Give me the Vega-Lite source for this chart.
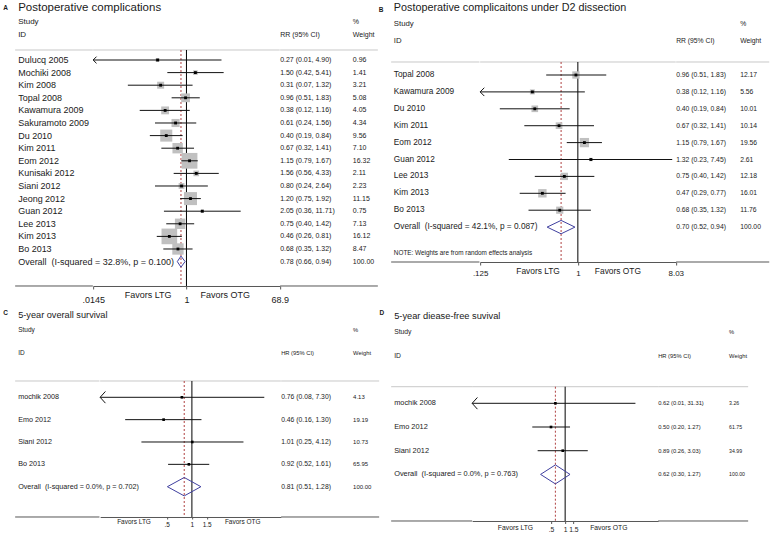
{
"$schema": "https://vega.github.io/schema/vega-lite/v6.json",
"padding": {"left": 3.15, "top": 0, "right": 0, "bottom": 0},
"background": "white",
"config": {"view": {"stroke": null}, "font": "Liberation Sans", "text": {"font": "Liberation Sans", "color": "#1a1a1a"}, "axis": {"labelFont": "Liberation Sans", "grid": false}},
"resolve": {"scale": {"size": "independent"}},
"datasets": {
"panels": [
{"panel":"A","letter":"A","title":"Postoperative complications"},
{"panel":"B","letter":"B","title":"Postoperative complicaitons under D2 dissection"},
{"panel":"C","letter":"C","title":"5-year overall survival"},
{"panel":"D","letter":"D","title":"5-year diease-free suvival"}],
"notes": [{"panel":"B","text":"NOTE: Weights are from random effects analysis"}],
"favors": [{"side":"left","text":"Favors LTG"},{"side":"right","text":"Favors OTG"}],
"headers": [
{"panel":"A","row":-2,"col":"study","text":"Study"},{"panel":"A","row":-1,"col":"study","text":"ID"},{"panel":"A","row":-1,"col":"ci","text":"RR (95% CI)"},{"panel":"A","row":-2,"col":"weight","text":"%"},{"panel":"A","row":-1,"col":"weight","text":"Weight"},
{"panel":"B","row":-2,"col":"study","text":"Study"},{"panel":"B","row":-1,"col":"study","text":"ID"},{"panel":"B","row":-1,"col":"ci","text":"RR (95% CI)"},{"panel":"B","row":-2,"col":"weight","text":"%"},{"panel":"B","row":-1,"col":"weight","text":"Weight"},
{"panel":"C","row":-2,"col":"study","text":"Study"},{"panel":"C","row":-1,"col":"study","text":"ID"},{"panel":"C","row":-1,"col":"ci","text":"HR (95% CI)"},{"panel":"C","row":-2,"col":"weight","text":"%"},{"panel":"C","row":-1,"col":"weight","text":"Weight"},
{"panel":"D","row":-2,"col":"study","text":"Study"},{"panel":"D","row":-1,"col":"study","text":"ID"},{"panel":"D","row":-1,"col":"ci","text":"HR (95% CI)"},{"panel":"D","row":-2,"col":"weight","text":"%"},{"panel":"D","row":-1,"col":"weight","text":"Weight"}],
"studies": [
{"panel":"A","row":1,"study":"Dulucq 2005","rr":0.27,"lo":0.01,"hi":4.90,"ci":"0.27 (0.01, 4.90)","w":0.96,"overall":false},
{"panel":"A","row":2,"study":"Mochiki 2008","rr":1.50,"lo":0.42,"hi":5.41,"ci":"1.50 (0.42, 5.41)","w":1.41,"overall":false},
{"panel":"A","row":3,"study":"Kim 2008","rr":0.31,"lo":0.07,"hi":1.32,"ci":"0.31 (0.07, 1.32)","w":3.21,"overall":false},
{"panel":"A","row":4,"study":"Topal 2008","rr":0.96,"lo":0.51,"hi":1.83,"ci":"0.96 (0.51, 1.83)","w":5.08,"overall":false},
{"panel":"A","row":5,"study":"Kawamura 2009","rr":0.38,"lo":0.12,"hi":1.16,"ci":"0.38 (0.12, 1.16)","w":4.05,"overall":false},
{"panel":"A","row":6,"study":"Sakuramoto 2009","rr":0.61,"lo":0.24,"hi":1.56,"ci":"0.61 (0.24, 1.56)","w":4.34,"overall":false},
{"panel":"A","row":7,"study":"Du 2010","rr":0.40,"lo":0.19,"hi":0.84,"ci":"0.40 (0.19, 0.84)","w":9.56,"overall":false},
{"panel":"A","row":8,"study":"Kim 2011","rr":0.67,"lo":0.32,"hi":1.41,"ci":"0.67 (0.32, 1.41)","w":7.10,"overall":false},
{"panel":"A","row":9,"study":"Eom 2012","rr":1.15,"lo":0.79,"hi":1.67,"ci":"1.15 (0.79, 1.67)","w":16.32,"overall":false},
{"panel":"A","row":10,"study":"Kunisaki 2012","rr":1.56,"lo":0.56,"hi":4.33,"ci":"1.56 (0.56, 4.33)","w":2.11,"overall":false},
{"panel":"A","row":11,"study":"Siani 2012","rr":0.80,"lo":0.24,"hi":2.64,"ci":"0.80 (0.24, 2.64)","w":2.23,"overall":false},
{"panel":"A","row":12,"study":"Jeong 2012","rr":1.20,"lo":0.75,"hi":1.92,"ci":"1.20 (0.75, 1.92)","w":11.15,"overall":false},
{"panel":"A","row":13,"study":"Guan 2012","rr":2.05,"lo":0.36,"hi":11.71,"ci":"2.05 (0.36, 11.71)","w":0.75,"overall":false},
{"panel":"A","row":14,"study":"Lee 2013","rr":0.75,"lo":0.40,"hi":1.42,"ci":"0.75 (0.40, 1.42)","w":7.13,"overall":false},
{"panel":"A","row":15,"study":"Kim 2013","rr":0.46,"lo":0.26,"hi":0.81,"ci":"0.46 (0.26, 0.81)","w":16.12,"overall":false},
{"panel":"A","row":16,"study":"Bo 2013","rr":0.68,"lo":0.35,"hi":1.32,"ci":"0.68 (0.35, 1.32)","w":8.47,"overall":false},
{"panel":"A","row":17,"study":"Overall\u00a0 (I-squared = 32.8%, p = 0.100)","rr":0.78,"lo":0.66,"hi":0.94,"ci":"0.78 (0.66, 0.94)","w":100,"overall":true},
{"panel":"B","row":1,"study":"Topal 2008","rr":0.96,"lo":0.51,"hi":1.83,"ci":"0.96 (0.51, 1.83)","w":12.17,"overall":false},
{"panel":"B","row":2,"study":"Kawamura 2009","rr":0.38,"lo":0.12,"hi":1.16,"ci":"0.38 (0.12, 1.16)","w":5.56,"overall":false},
{"panel":"B","row":3,"study":"Du 2010","rr":0.40,"lo":0.19,"hi":0.84,"ci":"0.40 (0.19, 0.84)","w":10.01,"overall":false},
{"panel":"B","row":4,"study":"Kim 2011","rr":0.67,"lo":0.32,"hi":1.41,"ci":"0.67 (0.32, 1.41)","w":10.14,"overall":false},
{"panel":"B","row":5,"study":"Eom 2012","rr":1.15,"lo":0.79,"hi":1.67,"ci":"1.15 (0.79, 1.67)","w":19.56,"overall":false},
{"panel":"B","row":6,"study":"Guan 2012","rr":1.32,"lo":0.23,"hi":7.45,"ci":"1.32 (0.23, 7.45)","w":2.61,"overall":false},
{"panel":"B","row":7,"study":"Lee 2013","rr":0.75,"lo":0.40,"hi":1.42,"ci":"0.75 (0.40, 1.42)","w":12.18,"overall":false},
{"panel":"B","row":8,"study":"Kim 2013","rr":0.47,"lo":0.29,"hi":0.77,"ci":"0.47 (0.29, 0.77)","w":16.01,"overall":false},
{"panel":"B","row":9,"study":"Bo 2013","rr":0.68,"lo":0.35,"hi":1.32,"ci":"0.68 (0.35, 1.32)","w":11.76,"overall":false},
{"panel":"B","row":10,"study":"Overall\u00a0 (I-squared = 42.1%, p = 0.087)","rr":0.70,"lo":0.52,"hi":0.94,"ci":"0.70 (0.52, 0.94)","w":100,"overall":true},
{"panel":"C","row":1,"study":"mochik 2008","rr":0.76,"lo":0.08,"hi":7.30,"ci":"0.76 (0.08, 7.30)","w":4.13,"overall":false},
{"panel":"C","row":2,"study":"Emo 2012","rr":0.46,"lo":0.16,"hi":1.30,"ci":"0.46 (0.16, 1.30)","w":19.19,"overall":false},
{"panel":"C","row":3,"study":"Siani 2012","rr":1.01,"lo":0.25,"hi":4.12,"ci":"1.01 (0.25, 4.12)","w":10.73,"overall":false},
{"panel":"C","row":4,"study":"Bo 2013","rr":0.92,"lo":0.52,"hi":1.61,"ci":"0.92 (0.52, 1.61)","w":65.95,"overall":false},
{"panel":"C","row":5,"study":"Overall\u00a0 (I-squared = 0.0%, p = 0.702)","rr":0.81,"lo":0.51,"hi":1.28,"ci":"0.81 (0.51, 1.28)","w":100,"overall":true},
{"panel":"D","row":1,"study":"mochik 2008","rr":0.62,"lo":0.01,"hi":31.31,"ci":"0.62 (0.01, 31.31)","w":3.26,"overall":false},
{"panel":"D","row":2,"study":"Emo 2012","rr":0.50,"lo":0.20,"hi":1.27,"ci":"0.50 (0.20, 1.27)","w":61.75,"overall":false},
{"panel":"D","row":3,"study":"Siani 2012","rr":0.89,"lo":0.26,"hi":3.03,"ci":"0.89 (0.26, 3.03)","w":34.99,"overall":false},
{"panel":"D","row":4,"study":"Overall\u00a0 (I-squared = 0.0%, p = 0.763)","rr":0.62,"lo":0.30,"hi":1.27,"ci":"0.62 (0.30, 1.27)","w":100,"overall":true}]
},
"spacing": 0,
"vconcat": [
{"hconcat": [
{"width": 77.7, "height": 286, "layer": [
 {"data":{"name":"panels"},"transform":[{"filter":"datum.panel === 'A'"}],"mark":{"type":"rule","color":"#c8c8c8","strokeWidth":1},"encoding":{"y":{"datum":0.206,"type":"quantitative","scale":{"domain":[-3.762,18.937],"reverse":true,"nice":false,"zero":false},"axis":null}}},
 {"data":{"name":"panels"},"transform":[{"filter":"datum.panel === 'A'"}],"mark":{"type":"rule","color":"#555","strokeWidth":1},"encoding":{"y":{"datum":18.937,"type":"quantitative","scale":{"domain":[-3.762,18.937],"reverse":true,"nice":false,"zero":false},"axis":null}}},
 {"data":{"name":"panels"},"transform":[{"filter":"datum.panel === 'A'"}],"mark":{"type":"text","align":"left","baseline":"middle","fontSize":11.5},"encoding":{"x":{"datum":"study","type":"nominal","scale":{"type":"point","domain":["study"],"align":0.0386,"padding":0},"axis":null},"y":{"datum":-3.127,"type":"quantitative","scale":{"domain":[-3.762,18.937],"reverse":true,"nice":false,"zero":false},"axis":null},"text":{"field":"title"}}},
 {"data":{"name":"panels"},"transform":[{"filter":"datum.panel === 'A'"}],"mark":{"type":"text","align":"center","baseline":"middle","fontSize":6.5,"fontWeight":"bold","dx":-12.5},"encoding":{"x":{"datum":"study","type":"nominal","scale":{"type":"point","domain":["study"],"align":0.0386,"padding":0},"axis":null},"y":{"datum":-3.127,"type":"quantitative","scale":{"domain":[-3.762,18.937],"reverse":true,"nice":false,"zero":false},"axis":null},"text":{"field":"letter"}}},
 {"data":{"name":"headers"},"transform":[{"filter":"datum.panel === 'A' && datum.col === 'study'"}],"mark":{"type":"text","align":"left","baseline":"middle","fontSize":8},"encoding":{"x":{"field":"col","type":"nominal","scale":{"type":"point","domain":["study"],"align":0.0386,"padding":0},"axis":null},"y":{"field":"row","type":"quantitative","scale":{"domain":[-3.762,18.937],"reverse":true,"nice":false,"zero":false},"axis":null},"text":{"field":"text"}}},
 {"data":{"name":"studies"},"transform":[{"filter":"datum.panel === 'A'"}],"mark":{"type":"text","align":"left","baseline":"middle","fontSize":9},"encoding":{"x":{"datum":"study","type":"nominal","scale":{"type":"point","domain":["study"],"align":0.0386,"padding":0},"axis":null},"y":{"field":"row","type":"quantitative","scale":{"domain":[-3.762,18.937],"reverse":true,"nice":false,"zero":false},"axis":null},"text":{"field":"study"}}}
]},
{"width": 186.6, "height": 286, "layer": [
 {"data":{"name":"panels"},"transform":[{"filter":"datum.panel === 'A'"}],"mark":{"type":"rule","color":"#c8c8c8","strokeWidth":1},"encoding":{"y":{"datum":0.206,"type":"quantitative","scale":{"domain":[-3.762,18.937],"reverse":true,"nice":false,"zero":false},"axis":null}}},
 {"data":{"name":"panels"},"transform":[{"filter":"datum.panel === 'A'"}],"mark":{"type":"rule","color":"#000","strokeWidth":1},"encoding":{"x":{"datum":1,"type":"quantitative","scale":{"type":"log","domain":[0.0145,68.9],"nice":false,"clamp":true},"axis":{"values":[0.0145,1,68.9],"labelExpr":"datum.value < 1 ? substring(format(datum.value, '~g'), 1) : format(datum.value, '~g')","tickSize":3,"labelPadding":7,"labelFontSize":9,"labelColor":"#1a1a1a","tickColor":"#555","domainColor":"#555","title":null,"grid":false,"labelFlush":false,"labelOverlap":false,"labelBound":false}},"y":{"datum":0.206,"type":"quantitative","scale":{"domain":[-3.762,18.937],"reverse":true,"nice":false,"zero":false},"axis":null},"y2":{"datum":18.937}}},
 {"data":{"name":"studies"},"transform":[{"filter":"datum.panel === 'A' && datum.overall"}],"mark":{"type":"rule","color":"#b04040","strokeWidth":1,"strokeDash":[2,2]},"encoding":{"x":{"field":"rr","type":"quantitative","scale":{"type":"log","domain":[0.0145,68.9],"nice":false,"clamp":true},"axis":{"values":[0.0145,1,68.9],"labelExpr":"datum.value < 1 ? substring(format(datum.value, '~g'), 1) : format(datum.value, '~g')","tickSize":3,"labelPadding":7,"labelFontSize":9,"labelColor":"#1a1a1a","tickColor":"#555","domainColor":"#555","title":null,"grid":false,"labelFlush":false,"labelOverlap":false,"labelBound":false}},"y":{"datum":0.206,"type":"quantitative","scale":{"domain":[-3.762,18.937],"reverse":true,"nice":false,"zero":false},"axis":null},"y2":{"datum":18.937}}},
 {"data":{"name":"studies"},"transform":[{"filter":"datum.panel === 'A' && !datum.overall"}],"mark":{"type":"point","shape":"square","filled":true,"color":"#c0c0c0","opacity":1},"encoding":{"x":{"field":"rr","type":"quantitative","scale":{"type":"log","domain":[0.0145,68.9],"nice":false,"clamp":true},"axis":{"values":[0.0145,1,68.9],"labelExpr":"datum.value < 1 ? substring(format(datum.value, '~g'), 1) : format(datum.value, '~g')","tickSize":3,"labelPadding":7,"labelFontSize":9,"labelColor":"#1a1a1a","tickColor":"#555","domainColor":"#555","title":null,"grid":false,"labelFlush":false,"labelOverlap":false,"labelBound":false}},"y":{"field":"row","type":"quantitative","scale":{"domain":[-3.762,18.937],"reverse":true,"nice":false,"zero":false},"axis":null},"size":{"field":"w","type":"quantitative","scale":{"domain":[0,100],"range":[0,1520]},"legend":null}}},
 {"data":{"name":"studies"},"transform":[{"filter":"datum.panel === 'A' && !datum.overall"}],"mark":{"type":"rule","color":"#111","strokeWidth":1},"encoding":{"x":{"field":"lo","type":"quantitative","scale":{"type":"log","domain":[0.0145,68.9],"nice":false,"clamp":true},"axis":{"values":[0.0145,1,68.9],"labelExpr":"datum.value < 1 ? substring(format(datum.value, '~g'), 1) : format(datum.value, '~g')","tickSize":3,"labelPadding":7,"labelFontSize":9,"labelColor":"#1a1a1a","tickColor":"#555","domainColor":"#555","title":null,"grid":false,"labelFlush":false,"labelOverlap":false,"labelBound":false}},"x2":{"field":"hi"},"y":{"field":"row","type":"quantitative","scale":{"domain":[-3.762,18.937],"reverse":true,"nice":false,"zero":false},"axis":null}}},
 {"data":{"name":"studies"},"transform":[{"filter":"datum.panel === 'A' && !datum.overall"}],"mark":{"type":"point","shape":"square","filled":true,"color":"#000","size":8,"opacity":1},"encoding":{"x":{"field":"rr","type":"quantitative","scale":{"type":"log","domain":[0.0145,68.9],"nice":false,"clamp":true},"axis":{"values":[0.0145,1,68.9],"labelExpr":"datum.value < 1 ? substring(format(datum.value, '~g'), 1) : format(datum.value, '~g')","tickSize":3,"labelPadding":7,"labelFontSize":9,"labelColor":"#1a1a1a","tickColor":"#555","domainColor":"#555","title":null,"grid":false,"labelFlush":false,"labelOverlap":false,"labelBound":false}},"y":{"field":"row","type":"quantitative","scale":{"domain":[-3.762,18.937],"reverse":true,"nice":false,"zero":false},"axis":null}}},
 {"data":{"name":"studies"},"transform":[{"filter":"datum.panel === 'A' && !datum.overall && datum.lo < 0.0145"}],"mark":{"type":"point","shape":"M 1 -1 L 0 0 L 1 1","filled":false,"color":"#111","strokeWidth":1,"size":45,"opacity":1},"encoding":{"x":{"field":"lo","type":"quantitative","scale":{"type":"log","domain":[0.0145,68.9],"nice":false,"clamp":true},"axis":{"values":[0.0145,1,68.9],"labelExpr":"datum.value < 1 ? substring(format(datum.value, '~g'), 1) : format(datum.value, '~g')","tickSize":3,"labelPadding":7,"labelFontSize":9,"labelColor":"#1a1a1a","tickColor":"#555","domainColor":"#555","title":null,"grid":false,"labelFlush":false,"labelOverlap":false,"labelBound":false}},"y":{"field":"row","type":"quantitative","scale":{"domain":[-3.762,18.937],"reverse":true,"nice":false,"zero":false},"axis":null}}},
 {"data":{"name":"studies"},"transform":[{"filter":"datum.panel === 'A' && datum.overall"}],"mark":{"type":"rule","color":"#3f3f9f","strokeWidth":1,"y2Offset":-5.5},"encoding":{"x":{"field":"lo","type":"quantitative","scale":{"type":"log","domain":[0.0145,68.9],"nice":false,"clamp":true},"axis":{"values":[0.0145,1,68.9],"labelExpr":"datum.value < 1 ? substring(format(datum.value, '~g'), 1) : format(datum.value, '~g')","tickSize":3,"labelPadding":7,"labelFontSize":9,"labelColor":"#1a1a1a","tickColor":"#555","domainColor":"#555","title":null,"grid":false,"labelFlush":false,"labelOverlap":false,"labelBound":false}},"x2":{"field":"rr"},"y":{"field":"row","type":"quantitative","scale":{"domain":[-3.762,18.937],"reverse":true,"nice":false,"zero":false},"axis":null},"y2":{"field":"row"}}},
 {"data":{"name":"studies"},"transform":[{"filter":"datum.panel === 'A' && datum.overall"}],"mark":{"type":"rule","color":"#3f3f9f","strokeWidth":1,"yOffset":-5.5},"encoding":{"x":{"field":"rr","type":"quantitative","scale":{"type":"log","domain":[0.0145,68.9],"nice":false,"clamp":true},"axis":{"values":[0.0145,1,68.9],"labelExpr":"datum.value < 1 ? substring(format(datum.value, '~g'), 1) : format(datum.value, '~g')","tickSize":3,"labelPadding":7,"labelFontSize":9,"labelColor":"#1a1a1a","tickColor":"#555","domainColor":"#555","title":null,"grid":false,"labelFlush":false,"labelOverlap":false,"labelBound":false}},"x2":{"field":"hi"},"y":{"field":"row","type":"quantitative","scale":{"domain":[-3.762,18.937],"reverse":true,"nice":false,"zero":false},"axis":null},"y2":{"field":"row"}}},
 {"data":{"name":"studies"},"transform":[{"filter":"datum.panel === 'A' && datum.overall"}],"mark":{"type":"rule","color":"#3f3f9f","strokeWidth":1,"y2Offset":5.5},"encoding":{"x":{"field":"lo","type":"quantitative","scale":{"type":"log","domain":[0.0145,68.9],"nice":false,"clamp":true},"axis":{"values":[0.0145,1,68.9],"labelExpr":"datum.value < 1 ? substring(format(datum.value, '~g'), 1) : format(datum.value, '~g')","tickSize":3,"labelPadding":7,"labelFontSize":9,"labelColor":"#1a1a1a","tickColor":"#555","domainColor":"#555","title":null,"grid":false,"labelFlush":false,"labelOverlap":false,"labelBound":false}},"x2":{"field":"rr"},"y":{"field":"row","type":"quantitative","scale":{"domain":[-3.762,18.937],"reverse":true,"nice":false,"zero":false},"axis":null},"y2":{"field":"row"}}},
 {"data":{"name":"studies"},"transform":[{"filter":"datum.panel === 'A' && datum.overall"}],"mark":{"type":"rule","color":"#3f3f9f","strokeWidth":1,"yOffset":5.5},"encoding":{"x":{"field":"rr","type":"quantitative","scale":{"type":"log","domain":[0.0145,68.9],"nice":false,"clamp":true},"axis":{"values":[0.0145,1,68.9],"labelExpr":"datum.value < 1 ? substring(format(datum.value, '~g'), 1) : format(datum.value, '~g')","tickSize":3,"labelPadding":7,"labelFontSize":9,"labelColor":"#1a1a1a","tickColor":"#555","domainColor":"#555","title":null,"grid":false,"labelFlush":false,"labelOverlap":false,"labelBound":false}},"x2":{"field":"hi"},"y":{"field":"row","type":"quantitative","scale":{"domain":[-3.762,18.937],"reverse":true,"nice":false,"zero":false},"axis":null},"y2":{"field":"row"}}},
 {"data":{"name":"favors"},"transform":[{"filter":"datum.side === 'left'"}],"mark":{"type":"text","align":"right","baseline":"middle","fontSize":9,"dx":-15},"encoding":{"x":{"datum":1,"type":"quantitative","scale":{"type":"log","domain":[0.0145,68.9],"nice":false,"clamp":true},"axis":{"values":[0.0145,1,68.9],"labelExpr":"datum.value < 1 ? substring(format(datum.value, '~g'), 1) : format(datum.value, '~g')","tickSize":3,"labelPadding":7,"labelFontSize":9,"labelColor":"#1a1a1a","tickColor":"#555","domainColor":"#555","title":null,"grid":false,"labelFlush":false,"labelOverlap":false,"labelBound":false}},"y":{"datum":19.65,"type":"quantitative","scale":{"domain":[-3.762,18.937],"reverse":true,"nice":false,"zero":false},"axis":null},"text":{"field":"text"}}},
 {"data":{"name":"favors"},"transform":[{"filter":"datum.side === 'right'"}],"mark":{"type":"text","align":"left","baseline":"middle","fontSize":9,"dx":14},"encoding":{"x":{"datum":1,"type":"quantitative","scale":{"type":"log","domain":[0.0145,68.9],"nice":false,"clamp":true},"axis":{"values":[0.0145,1,68.9],"labelExpr":"datum.value < 1 ? substring(format(datum.value, '~g'), 1) : format(datum.value, '~g')","tickSize":3,"labelPadding":7,"labelFontSize":9,"labelColor":"#1a1a1a","tickColor":"#555","domainColor":"#555","title":null,"grid":false,"labelFlush":false,"labelOverlap":false,"labelBound":false}},"y":{"datum":19.65,"type":"quantitative","scale":{"domain":[-3.762,18.937],"reverse":true,"nice":false,"zero":false},"axis":null},"text":{"field":"text"}}}
]},
{"width": 97.7, "height": 286, "layer": [
 {"data":{"name":"panels"},"transform":[{"filter":"datum.panel === 'A'"}],"mark":{"type":"rule","color":"#c8c8c8","strokeWidth":1},"encoding":{"y":{"datum":0.206,"type":"quantitative","scale":{"domain":[-3.762,18.937],"reverse":true,"nice":false,"zero":false},"axis":null}}},
 {"data":{"name":"panels"},"transform":[{"filter":"datum.panel === 'A'"}],"mark":{"type":"rule","color":"#555","strokeWidth":1},"encoding":{"y":{"datum":18.937,"type":"quantitative","scale":{"domain":[-3.762,18.937],"reverse":true,"nice":false,"zero":false},"axis":null}}},
 {"data":{"name":"headers"},"transform":[{"filter":"datum.panel === 'A' && datum.col !== 'study'"}],"mark":{"type":"text","align":"left","baseline":"middle","fontSize":7},"encoding":{"x":{"field":"col","type":"nominal","scale":{"type":"point","domain":["ci","weight"],"padding":0.172,"align":0},"axis":null},"y":{"field":"row","type":"quantitative","scale":{"domain":[-3.762,18.937],"reverse":true,"nice":false,"zero":false},"axis":null},"text":{"field":"text"}}},
 {"data":{"name":"studies"},"transform":[{"filter":"datum.panel === 'A'"}],"mark":{"type":"text","align":"left","baseline":"middle","fontSize":7},"encoding":{"x":{"datum":"ci","type":"nominal","scale":{"type":"point","domain":["ci","weight"],"padding":0.172,"align":0},"axis":null},"y":{"field":"row","type":"quantitative","scale":{"domain":[-3.762,18.937],"reverse":true,"nice":false,"zero":false},"axis":null},"text":{"field":"ci"}}},
 {"data":{"name":"studies"},"transform":[{"filter":"datum.panel === 'A'"}],"mark":{"type":"text","align":"left","baseline":"middle","fontSize":7},"encoding":{"x":{"datum":"weight","type":"nominal","scale":{"type":"point","domain":["ci","weight"],"padding":0.172,"align":0},"axis":null},"y":{"field":"row","type":"quantitative","scale":{"domain":[-3.762,18.937],"reverse":true,"nice":false,"zero":false},"axis":null},"text":{"field":"w","type":"quantitative","format":".2f"}}}
]},
{"width": 13, "height": 1, "data": {"values": []}, "mark": "point"},
{"width": 88.3, "height": 262, "layer": [
 {"data":{"name":"panels"},"transform":[{"filter":"datum.panel === 'B'"}],"mark":{"type":"rule","color":"#c8c8c8","strokeWidth":1},"encoding":{"y":{"datum":0.231,"type":"quantitative","scale":{"domain":[-3.438,12.065],"reverse":true,"nice":false,"zero":false},"axis":null}}},
 {"data":{"name":"panels"},"transform":[{"filter":"datum.panel === 'B'"}],"mark":{"type":"rule","color":"#555","strokeWidth":1},"encoding":{"y":{"datum":12.065,"type":"quantitative","scale":{"domain":[-3.438,12.065],"reverse":true,"nice":false,"zero":false},"axis":null}}},
 {"data":{"name":"panels"},"transform":[{"filter":"datum.panel === 'B'"}],"mark":{"type":"text","align":"left","baseline":"middle","fontSize":10.8},"encoding":{"x":{"datum":"study","type":"nominal","scale":{"type":"point","domain":["study"],"align":0.0306,"padding":0},"axis":null},"y":{"datum":-2.964,"type":"quantitative","scale":{"domain":[-3.438,12.065],"reverse":true,"nice":false,"zero":false},"axis":null},"text":{"field":"title"}}},
 {"data":{"name":"panels"},"transform":[{"filter":"datum.panel === 'B'"}],"mark":{"type":"text","align":"center","baseline":"middle","fontSize":6.5,"fontWeight":"bold","dx":-12.7},"encoding":{"x":{"datum":"study","type":"nominal","scale":{"type":"point","domain":["study"],"align":0.0306,"padding":0},"axis":null},"y":{"datum":-2.846,"type":"quantitative","scale":{"domain":[-3.438,12.065],"reverse":true,"nice":false,"zero":false},"axis":null},"text":{"field":"letter"}}},
 {"data":{"name":"headers"},"transform":[{"filter":"datum.panel === 'B' && datum.col === 'study'"}],"mark":{"type":"text","align":"left","baseline":"middle","fontSize":7.8},"encoding":{"x":{"field":"col","type":"nominal","scale":{"type":"point","domain":["study"],"align":0.0306,"padding":0},"axis":null},"y":{"field":"row","type":"quantitative","scale":{"domain":[-3.438,12.065],"reverse":true,"nice":false,"zero":false},"axis":null},"text":{"field":"text"}}},
 {"data":{"name":"studies"},"transform":[{"filter":"datum.panel === 'B'"}],"mark":{"type":"text","align":"left","baseline":"middle","fontSize":8.3},"encoding":{"x":{"datum":"study","type":"nominal","scale":{"type":"point","domain":["study"],"align":0.0306,"padding":0},"axis":null},"y":{"field":"row","type":"quantitative","scale":{"domain":[-3.438,12.065],"reverse":true,"nice":false,"zero":false},"axis":null},"text":{"field":"study"}}},
 {"data":{"name":"notes"},"transform":[{"filter":"datum.panel === 'B'"}],"mark":{"type":"text","align":"left","baseline":"middle","fontSize":6.4},"encoding":{"x":{"datum":"study","type":"nominal","scale":{"type":"point","domain":["study"],"align":0.0306,"padding":0},"axis":null},"y":{"datum":11.55,"type":"quantitative","scale":{"domain":[-3.438,12.065],"reverse":true,"nice":false,"zero":false},"axis":null},"text":{"field":"text"}}}
]},
{"width": 195.6, "height": 262, "layer": [
 {"data":{"name":"panels"},"transform":[{"filter":"datum.panel === 'B'"}],"mark":{"type":"rule","color":"#c8c8c8","strokeWidth":1},"encoding":{"y":{"datum":0.231,"type":"quantitative","scale":{"domain":[-3.438,12.065],"reverse":true,"nice":false,"zero":false},"axis":null}}},
 {"data":{"name":"panels"},"transform":[{"filter":"datum.panel === 'B'"}],"mark":{"type":"rule","color":"#000","strokeWidth":1},"encoding":{"x":{"datum":1,"type":"quantitative","scale":{"type":"log","domain":[0.125,8.03],"nice":false,"clamp":true},"axis":{"values":[0.125,1,8.03],"labelExpr":"datum.value < 1 ? substring(format(datum.value, '~g'), 1) : format(datum.value, '~g')","tickSize":3,"labelPadding":5,"labelFontSize":8,"labelColor":"#1a1a1a","tickColor":"#555","domainColor":"#555","title":null,"grid":false,"labelFlush":false,"labelOverlap":false,"labelBound":false}},"y":{"datum":0.231,"type":"quantitative","scale":{"domain":[-3.438,12.065],"reverse":true,"nice":false,"zero":false},"axis":null},"y2":{"datum":12.065}}},
 {"data":{"name":"studies"},"transform":[{"filter":"datum.panel === 'B' && datum.overall"}],"mark":{"type":"rule","color":"#b04040","strokeWidth":1,"strokeDash":[2,2]},"encoding":{"x":{"field":"rr","type":"quantitative","scale":{"type":"log","domain":[0.125,8.03],"nice":false,"clamp":true},"axis":{"values":[0.125,1,8.03],"labelExpr":"datum.value < 1 ? substring(format(datum.value, '~g'), 1) : format(datum.value, '~g')","tickSize":3,"labelPadding":5,"labelFontSize":8,"labelColor":"#1a1a1a","tickColor":"#555","domainColor":"#555","title":null,"grid":false,"labelFlush":false,"labelOverlap":false,"labelBound":false}},"y":{"datum":0.231,"type":"quantitative","scale":{"domain":[-3.438,12.065],"reverse":true,"nice":false,"zero":false},"axis":null},"y2":{"datum":12.065}}},
 {"data":{"name":"studies"},"transform":[{"filter":"datum.panel === 'B' && !datum.overall"}],"mark":{"type":"point","shape":"square","filled":true,"color":"#c0c0c0","opacity":1},"encoding":{"x":{"field":"rr","type":"quantitative","scale":{"type":"log","domain":[0.125,8.03],"nice":false,"clamp":true},"axis":{"values":[0.125,1,8.03],"labelExpr":"datum.value < 1 ? substring(format(datum.value, '~g'), 1) : format(datum.value, '~g')","tickSize":3,"labelPadding":5,"labelFontSize":8,"labelColor":"#1a1a1a","tickColor":"#555","domainColor":"#555","title":null,"grid":false,"labelFlush":false,"labelOverlap":false,"labelBound":false}},"y":{"field":"row","type":"quantitative","scale":{"domain":[-3.438,12.065],"reverse":true,"nice":false,"zero":false},"axis":null},"size":{"field":"w","type":"quantitative","scale":{"domain":[0,100],"range":[0,440]},"legend":null}}},
 {"data":{"name":"studies"},"transform":[{"filter":"datum.panel === 'B' && !datum.overall"}],"mark":{"type":"rule","color":"#111","strokeWidth":1},"encoding":{"x":{"field":"lo","type":"quantitative","scale":{"type":"log","domain":[0.125,8.03],"nice":false,"clamp":true},"axis":{"values":[0.125,1,8.03],"labelExpr":"datum.value < 1 ? substring(format(datum.value, '~g'), 1) : format(datum.value, '~g')","tickSize":3,"labelPadding":5,"labelFontSize":8,"labelColor":"#1a1a1a","tickColor":"#555","domainColor":"#555","title":null,"grid":false,"labelFlush":false,"labelOverlap":false,"labelBound":false}},"x2":{"field":"hi"},"y":{"field":"row","type":"quantitative","scale":{"domain":[-3.438,12.065],"reverse":true,"nice":false,"zero":false},"axis":null}}},
 {"data":{"name":"studies"},"transform":[{"filter":"datum.panel === 'B' && !datum.overall"}],"mark":{"type":"point","shape":"square","filled":true,"color":"#000","size":8,"opacity":1},"encoding":{"x":{"field":"rr","type":"quantitative","scale":{"type":"log","domain":[0.125,8.03],"nice":false,"clamp":true},"axis":{"values":[0.125,1,8.03],"labelExpr":"datum.value < 1 ? substring(format(datum.value, '~g'), 1) : format(datum.value, '~g')","tickSize":3,"labelPadding":5,"labelFontSize":8,"labelColor":"#1a1a1a","tickColor":"#555","domainColor":"#555","title":null,"grid":false,"labelFlush":false,"labelOverlap":false,"labelBound":false}},"y":{"field":"row","type":"quantitative","scale":{"domain":[-3.438,12.065],"reverse":true,"nice":false,"zero":false},"axis":null}}},
 {"data":{"name":"studies"},"transform":[{"filter":"datum.panel === 'B' && !datum.overall && datum.lo < 0.125"}],"mark":{"type":"point","shape":"M 1 -1 L 0 0 L 1 1","filled":false,"color":"#111","strokeWidth":1,"size":69,"opacity":1},"encoding":{"x":{"field":"lo","type":"quantitative","scale":{"type":"log","domain":[0.125,8.03],"nice":false,"clamp":true},"axis":{"values":[0.125,1,8.03],"labelExpr":"datum.value < 1 ? substring(format(datum.value, '~g'), 1) : format(datum.value, '~g')","tickSize":3,"labelPadding":5,"labelFontSize":8,"labelColor":"#1a1a1a","tickColor":"#555","domainColor":"#555","title":null,"grid":false,"labelFlush":false,"labelOverlap":false,"labelBound":false}},"y":{"field":"row","type":"quantitative","scale":{"domain":[-3.438,12.065],"reverse":true,"nice":false,"zero":false},"axis":null}}},
 {"data":{"name":"studies"},"transform":[{"filter":"datum.panel === 'B' && datum.overall"}],"mark":{"type":"rule","color":"#3f3f9f","strokeWidth":1,"y2Offset":-6.7},"encoding":{"x":{"field":"lo","type":"quantitative","scale":{"type":"log","domain":[0.125,8.03],"nice":false,"clamp":true},"axis":{"values":[0.125,1,8.03],"labelExpr":"datum.value < 1 ? substring(format(datum.value, '~g'), 1) : format(datum.value, '~g')","tickSize":3,"labelPadding":5,"labelFontSize":8,"labelColor":"#1a1a1a","tickColor":"#555","domainColor":"#555","title":null,"grid":false,"labelFlush":false,"labelOverlap":false,"labelBound":false}},"x2":{"field":"rr"},"y":{"field":"row","type":"quantitative","scale":{"domain":[-3.438,12.065],"reverse":true,"nice":false,"zero":false},"axis":null},"y2":{"field":"row"}}},
 {"data":{"name":"studies"},"transform":[{"filter":"datum.panel === 'B' && datum.overall"}],"mark":{"type":"rule","color":"#3f3f9f","strokeWidth":1,"yOffset":-6.7},"encoding":{"x":{"field":"rr","type":"quantitative","scale":{"type":"log","domain":[0.125,8.03],"nice":false,"clamp":true},"axis":{"values":[0.125,1,8.03],"labelExpr":"datum.value < 1 ? substring(format(datum.value, '~g'), 1) : format(datum.value, '~g')","tickSize":3,"labelPadding":5,"labelFontSize":8,"labelColor":"#1a1a1a","tickColor":"#555","domainColor":"#555","title":null,"grid":false,"labelFlush":false,"labelOverlap":false,"labelBound":false}},"x2":{"field":"hi"},"y":{"field":"row","type":"quantitative","scale":{"domain":[-3.438,12.065],"reverse":true,"nice":false,"zero":false},"axis":null},"y2":{"field":"row"}}},
 {"data":{"name":"studies"},"transform":[{"filter":"datum.panel === 'B' && datum.overall"}],"mark":{"type":"rule","color":"#3f3f9f","strokeWidth":1,"y2Offset":6.7},"encoding":{"x":{"field":"lo","type":"quantitative","scale":{"type":"log","domain":[0.125,8.03],"nice":false,"clamp":true},"axis":{"values":[0.125,1,8.03],"labelExpr":"datum.value < 1 ? substring(format(datum.value, '~g'), 1) : format(datum.value, '~g')","tickSize":3,"labelPadding":5,"labelFontSize":8,"labelColor":"#1a1a1a","tickColor":"#555","domainColor":"#555","title":null,"grid":false,"labelFlush":false,"labelOverlap":false,"labelBound":false}},"x2":{"field":"rr"},"y":{"field":"row","type":"quantitative","scale":{"domain":[-3.438,12.065],"reverse":true,"nice":false,"zero":false},"axis":null},"y2":{"field":"row"}}},
 {"data":{"name":"studies"},"transform":[{"filter":"datum.panel === 'B' && datum.overall"}],"mark":{"type":"rule","color":"#3f3f9f","strokeWidth":1,"yOffset":6.7},"encoding":{"x":{"field":"rr","type":"quantitative","scale":{"type":"log","domain":[0.125,8.03],"nice":false,"clamp":true},"axis":{"values":[0.125,1,8.03],"labelExpr":"datum.value < 1 ? substring(format(datum.value, '~g'), 1) : format(datum.value, '~g')","tickSize":3,"labelPadding":5,"labelFontSize":8,"labelColor":"#1a1a1a","tickColor":"#555","domainColor":"#555","title":null,"grid":false,"labelFlush":false,"labelOverlap":false,"labelBound":false}},"x2":{"field":"hi"},"y":{"field":"row","type":"quantitative","scale":{"domain":[-3.438,12.065],"reverse":true,"nice":false,"zero":false},"axis":null},"y2":{"field":"row"}}},
 {"data":{"name":"favors"},"transform":[{"filter":"datum.side === 'left'"}],"mark":{"type":"text","align":"right","baseline":"middle","fontSize":8.4,"dx":-18},"encoding":{"x":{"datum":1,"type":"quantitative","scale":{"type":"log","domain":[0.125,8.03],"nice":false,"clamp":true},"axis":{"values":[0.125,1,8.03],"labelExpr":"datum.value < 1 ? substring(format(datum.value, '~g'), 1) : format(datum.value, '~g')","tickSize":3,"labelPadding":5,"labelFontSize":8,"labelColor":"#1a1a1a","tickColor":"#555","domainColor":"#555","title":null,"grid":false,"labelFlush":false,"labelOverlap":false,"labelBound":false}},"y":{"datum":12.6,"type":"quantitative","scale":{"domain":[-3.438,12.065],"reverse":true,"nice":false,"zero":false},"axis":null},"text":{"field":"text"}}},
 {"data":{"name":"favors"},"transform":[{"filter":"datum.side === 'right'"}],"mark":{"type":"text","align":"left","baseline":"middle","fontSize":8.4,"dx":17},"encoding":{"x":{"datum":1,"type":"quantitative","scale":{"type":"log","domain":[0.125,8.03],"nice":false,"clamp":true},"axis":{"values":[0.125,1,8.03],"labelExpr":"datum.value < 1 ? substring(format(datum.value, '~g'), 1) : format(datum.value, '~g')","tickSize":3,"labelPadding":5,"labelFontSize":8,"labelColor":"#1a1a1a","tickColor":"#555","domainColor":"#555","title":null,"grid":false,"labelFlush":false,"labelOverlap":false,"labelBound":false}},"y":{"datum":12.6,"type":"quantitative","scale":{"domain":[-3.438,12.065],"reverse":true,"nice":false,"zero":false},"axis":null},"text":{"field":"text"}}}
]},
{"width": 93.1, "height": 262, "layer": [
 {"data":{"name":"panels"},"transform":[{"filter":"datum.panel === 'B'"}],"mark":{"type":"rule","color":"#c8c8c8","strokeWidth":1},"encoding":{"y":{"datum":0.231,"type":"quantitative","scale":{"domain":[-3.438,12.065],"reverse":true,"nice":false,"zero":false},"axis":null}}},
 {"data":{"name":"panels"},"transform":[{"filter":"datum.panel === 'B'"}],"mark":{"type":"rule","color":"#555","strokeWidth":1},"encoding":{"y":{"datum":12.065,"type":"quantitative","scale":{"domain":[-3.438,12.065],"reverse":true,"nice":false,"zero":false},"axis":null}}},
 {"data":{"name":"headers"},"transform":[{"filter":"datum.panel === 'B' && datum.col !== 'study'"}],"mark":{"type":"text","align":"left","baseline":"middle","fontSize":6.8},"encoding":{"x":{"field":"col","type":"nominal","scale":{"type":"point","domain":["ci","weight"],"padding":0.227,"align":0},"axis":null},"y":{"field":"row","type":"quantitative","scale":{"domain":[-3.438,12.065],"reverse":true,"nice":false,"zero":false},"axis":null},"text":{"field":"text"}}},
 {"data":{"name":"studies"},"transform":[{"filter":"datum.panel === 'B'"}],"mark":{"type":"text","align":"left","baseline":"middle","fontSize":6.8},"encoding":{"x":{"datum":"ci","type":"nominal","scale":{"type":"point","domain":["ci","weight"],"padding":0.227,"align":0},"axis":null},"y":{"field":"row","type":"quantitative","scale":{"domain":[-3.438,12.065],"reverse":true,"nice":false,"zero":false},"axis":null},"text":{"field":"ci"}}},
 {"data":{"name":"studies"},"transform":[{"filter":"datum.panel === 'B'"}],"mark":{"type":"text","align":"left","baseline":"middle","fontSize":6.8},"encoding":{"x":{"datum":"weight","type":"nominal","scale":{"type":"point","domain":["ci","weight"],"padding":0.227,"align":0},"axis":null},"y":{"field":"row","type":"quantitative","scale":{"domain":[-3.438,12.065],"reverse":true,"nice":false,"zero":false},"axis":null},"text":{"field":"w","type":"quantitative","format":".2f"}}}
]}
], "spacing": 0, "bounds": "flush", "resolve": {"scale": {"size": "independent"}}},
{"hconcat": [
{"width": 84.3, "height": 212, "layer": [
 {"data":{"name":"panels"},"transform":[{"filter":"datum.panel === 'C'"}],"mark":{"type":"rule","color":"#c8c8c8","strokeWidth":1},"encoding":{"y":{"datum":0.271,"type":"quantitative","scale":{"domain":[-3.13,6.356],"reverse":true,"nice":false,"zero":false},"axis":null}}},
 {"data":{"name":"panels"},"transform":[{"filter":"datum.panel === 'C'"}],"mark":{"type":"rule","color":"#555","strokeWidth":1},"encoding":{"y":{"datum":6.356,"type":"quantitative","scale":{"domain":[-3.13,6.356],"reverse":true,"nice":false,"zero":false},"axis":null}}},
 {"data":{"name":"panels"},"transform":[{"filter":"datum.panel === 'C'"}],"mark":{"type":"text","align":"left","baseline":"middle","fontSize":9.2},"encoding":{"x":{"datum":"study","type":"nominal","scale":{"type":"point","domain":["study"],"align":0.0356,"padding":0},"axis":null},"y":{"datum":-2.687,"type":"quantitative","scale":{"domain":[-3.13,6.356],"reverse":true,"nice":false,"zero":false},"axis":null},"text":{"field":"title"}}},
 {"data":{"name":"panels"},"transform":[{"filter":"datum.panel === 'C'"}],"mark":{"type":"text","align":"center","baseline":"middle","fontSize":6.5,"fontWeight":"bold","dx":-12.5},"encoding":{"x":{"datum":"study","type":"nominal","scale":{"type":"point","domain":["study"],"align":0.0356,"padding":0},"axis":null},"y":{"datum":-2.772,"type":"quantitative","scale":{"domain":[-3.13,6.356],"reverse":true,"nice":false,"zero":false},"axis":null},"text":{"field":"letter"}}},
 {"data":{"name":"headers"},"transform":[{"filter":"datum.panel === 'C' && datum.col === 'study'"}],"mark":{"type":"text","align":"left","baseline":"middle","fontSize":6.5},"encoding":{"x":{"field":"col","type":"nominal","scale":{"type":"point","domain":["study"],"align":0.0356,"padding":0},"axis":null},"y":{"field":"row","type":"quantitative","scale":{"domain":[-3.13,6.356],"reverse":true,"nice":false,"zero":false},"axis":null},"text":{"field":"text"}}},
 {"data":{"name":"studies"},"transform":[{"filter":"datum.panel === 'C'"}],"mark":{"type":"text","align":"left","baseline":"middle","fontSize":7.2},"encoding":{"x":{"datum":"study","type":"nominal","scale":{"type":"point","domain":["study"],"align":0.0356,"padding":0},"axis":null},"y":{"field":"row","type":"quantitative","scale":{"domain":[-3.13,6.356],"reverse":true,"nice":false,"zero":false},"axis":null},"text":{"field":"study"}}}
]},
{"width": 180.7, "height": 212, "layer": [
 {"data":{"name":"panels"},"transform":[{"filter":"datum.panel === 'C'"}],"mark":{"type":"rule","color":"#c8c8c8","strokeWidth":1},"encoding":{"y":{"datum":0.271,"type":"quantitative","scale":{"domain":[-3.13,6.356],"reverse":true,"nice":false,"zero":false},"axis":null}}},
 {"data":{"name":"panels"},"transform":[{"filter":"datum.panel === 'C'"}],"mark":{"type":"rule","color":"#000","strokeWidth":1},"encoding":{"x":{"datum":1,"type":"quantitative","scale":{"type":"log","domain":[0.0805,11.5],"nice":false,"clamp":true},"axis":{"values":[0.5,1,1.5],"labelExpr":"datum.value < 1 ? substring(format(datum.value, '~g'), 1) : format(datum.value, '~g')","tickSize":2,"labelPadding":3,"labelFontSize":6.5,"labelColor":"#1a1a1a","tickColor":"#555","domainColor":"#555","title":null,"grid":false,"labelFlush":false,"labelOverlap":false,"labelBound":false}},"y":{"datum":0.271,"type":"quantitative","scale":{"domain":[-3.13,6.356],"reverse":true,"nice":false,"zero":false},"axis":null},"y2":{"datum":6.356}}},
 {"data":{"name":"studies"},"transform":[{"filter":"datum.panel === 'C' && datum.overall"}],"mark":{"type":"rule","color":"#b04040","strokeWidth":1,"strokeDash":[2,2]},"encoding":{"x":{"field":"rr","type":"quantitative","scale":{"type":"log","domain":[0.0805,11.5],"nice":false,"clamp":true},"axis":{"values":[0.5,1,1.5],"labelExpr":"datum.value < 1 ? substring(format(datum.value, '~g'), 1) : format(datum.value, '~g')","tickSize":2,"labelPadding":3,"labelFontSize":6.5,"labelColor":"#1a1a1a","tickColor":"#555","domainColor":"#555","title":null,"grid":false,"labelFlush":false,"labelOverlap":false,"labelBound":false}},"y":{"datum":0.271,"type":"quantitative","scale":{"domain":[-3.13,6.356],"reverse":true,"nice":false,"zero":false},"axis":null},"y2":{"datum":6.356}}},
 {"data":{"name":"studies"},"transform":[{"filter":"datum.panel === 'C' && !datum.overall"}],"mark":{"type":"rule","color":"#111","strokeWidth":1},"encoding":{"x":{"field":"lo","type":"quantitative","scale":{"type":"log","domain":[0.0805,11.5],"nice":false,"clamp":true},"axis":{"values":[0.5,1,1.5],"labelExpr":"datum.value < 1 ? substring(format(datum.value, '~g'), 1) : format(datum.value, '~g')","tickSize":2,"labelPadding":3,"labelFontSize":6.5,"labelColor":"#1a1a1a","tickColor":"#555","domainColor":"#555","title":null,"grid":false,"labelFlush":false,"labelOverlap":false,"labelBound":false}},"x2":{"field":"hi"},"y":{"field":"row","type":"quantitative","scale":{"domain":[-3.13,6.356],"reverse":true,"nice":false,"zero":false},"axis":null}}},
 {"data":{"name":"studies"},"transform":[{"filter":"datum.panel === 'C' && !datum.overall"}],"mark":{"type":"point","shape":"square","filled":true,"color":"#000","size":7,"opacity":1},"encoding":{"x":{"field":"rr","type":"quantitative","scale":{"type":"log","domain":[0.0805,11.5],"nice":false,"clamp":true},"axis":{"values":[0.5,1,1.5],"labelExpr":"datum.value < 1 ? substring(format(datum.value, '~g'), 1) : format(datum.value, '~g')","tickSize":2,"labelPadding":3,"labelFontSize":6.5,"labelColor":"#1a1a1a","tickColor":"#555","domainColor":"#555","title":null,"grid":false,"labelFlush":false,"labelOverlap":false,"labelBound":false}},"y":{"field":"row","type":"quantitative","scale":{"domain":[-3.13,6.356],"reverse":true,"nice":false,"zero":false},"axis":null}}},
 {"data":{"name":"studies"},"transform":[{"filter":"datum.panel === 'C' && !datum.overall && datum.lo < 0.0805"}],"mark":{"type":"point","shape":"M 0.9 -1 L 0 0 L 0.9 1","filled":false,"color":"#111","strokeWidth":1,"size":137,"opacity":1},"encoding":{"x":{"field":"lo","type":"quantitative","scale":{"type":"log","domain":[0.0805,11.5],"nice":false,"clamp":true},"axis":{"values":[0.5,1,1.5],"labelExpr":"datum.value < 1 ? substring(format(datum.value, '~g'), 1) : format(datum.value, '~g')","tickSize":2,"labelPadding":3,"labelFontSize":6.5,"labelColor":"#1a1a1a","tickColor":"#555","domainColor":"#555","title":null,"grid":false,"labelFlush":false,"labelOverlap":false,"labelBound":false}},"y":{"field":"row","type":"quantitative","scale":{"domain":[-3.13,6.356],"reverse":true,"nice":false,"zero":false},"axis":null}}},
 {"data":{"name":"studies"},"transform":[{"filter":"datum.panel === 'C' && datum.overall"}],"mark":{"type":"rule","color":"#3f3f9f","strokeWidth":1,"y2Offset":-9.2},"encoding":{"x":{"field":"lo","type":"quantitative","scale":{"type":"log","domain":[0.0805,11.5],"nice":false,"clamp":true},"axis":{"values":[0.5,1,1.5],"labelExpr":"datum.value < 1 ? substring(format(datum.value, '~g'), 1) : format(datum.value, '~g')","tickSize":2,"labelPadding":3,"labelFontSize":6.5,"labelColor":"#1a1a1a","tickColor":"#555","domainColor":"#555","title":null,"grid":false,"labelFlush":false,"labelOverlap":false,"labelBound":false}},"x2":{"field":"rr"},"y":{"field":"row","type":"quantitative","scale":{"domain":[-3.13,6.356],"reverse":true,"nice":false,"zero":false},"axis":null},"y2":{"field":"row"}}},
 {"data":{"name":"studies"},"transform":[{"filter":"datum.panel === 'C' && datum.overall"}],"mark":{"type":"rule","color":"#3f3f9f","strokeWidth":1,"yOffset":-9.2},"encoding":{"x":{"field":"rr","type":"quantitative","scale":{"type":"log","domain":[0.0805,11.5],"nice":false,"clamp":true},"axis":{"values":[0.5,1,1.5],"labelExpr":"datum.value < 1 ? substring(format(datum.value, '~g'), 1) : format(datum.value, '~g')","tickSize":2,"labelPadding":3,"labelFontSize":6.5,"labelColor":"#1a1a1a","tickColor":"#555","domainColor":"#555","title":null,"grid":false,"labelFlush":false,"labelOverlap":false,"labelBound":false}},"x2":{"field":"hi"},"y":{"field":"row","type":"quantitative","scale":{"domain":[-3.13,6.356],"reverse":true,"nice":false,"zero":false},"axis":null},"y2":{"field":"row"}}},
 {"data":{"name":"studies"},"transform":[{"filter":"datum.panel === 'C' && datum.overall"}],"mark":{"type":"rule","color":"#3f3f9f","strokeWidth":1,"y2Offset":9.2},"encoding":{"x":{"field":"lo","type":"quantitative","scale":{"type":"log","domain":[0.0805,11.5],"nice":false,"clamp":true},"axis":{"values":[0.5,1,1.5],"labelExpr":"datum.value < 1 ? substring(format(datum.value, '~g'), 1) : format(datum.value, '~g')","tickSize":2,"labelPadding":3,"labelFontSize":6.5,"labelColor":"#1a1a1a","tickColor":"#555","domainColor":"#555","title":null,"grid":false,"labelFlush":false,"labelOverlap":false,"labelBound":false}},"x2":{"field":"rr"},"y":{"field":"row","type":"quantitative","scale":{"domain":[-3.13,6.356],"reverse":true,"nice":false,"zero":false},"axis":null},"y2":{"field":"row"}}},
 {"data":{"name":"studies"},"transform":[{"filter":"datum.panel === 'C' && datum.overall"}],"mark":{"type":"rule","color":"#3f3f9f","strokeWidth":1,"yOffset":9.2},"encoding":{"x":{"field":"rr","type":"quantitative","scale":{"type":"log","domain":[0.0805,11.5],"nice":false,"clamp":true},"axis":{"values":[0.5,1,1.5],"labelExpr":"datum.value < 1 ? substring(format(datum.value, '~g'), 1) : format(datum.value, '~g')","tickSize":2,"labelPadding":3,"labelFontSize":6.5,"labelColor":"#1a1a1a","tickColor":"#555","domainColor":"#555","title":null,"grid":false,"labelFlush":false,"labelOverlap":false,"labelBound":false}},"x2":{"field":"hi"},"y":{"field":"row","type":"quantitative","scale":{"domain":[-3.13,6.356],"reverse":true,"nice":false,"zero":false},"axis":null},"y2":{"field":"row"}}},
 {"data":{"name":"favors"},"transform":[{"filter":"datum.side === 'left'"}],"mark":{"type":"text","align":"right","baseline":"middle","fontSize":6.5,"dx":-41},"encoding":{"x":{"datum":1,"type":"quantitative","scale":{"type":"log","domain":[0.0805,11.5],"nice":false,"clamp":true},"axis":{"values":[0.5,1,1.5],"labelExpr":"datum.value < 1 ? substring(format(datum.value, '~g'), 1) : format(datum.value, '~g')","tickSize":2,"labelPadding":3,"labelFontSize":6.5,"labelColor":"#1a1a1a","tickColor":"#555","domainColor":"#555","title":null,"grid":false,"labelFlush":false,"labelOverlap":false,"labelBound":false}},"y":{"datum":6.566,"type":"quantitative","scale":{"domain":[-3.13,6.356],"reverse":true,"nice":false,"zero":false},"axis":null},"text":{"field":"text"}}},
 {"data":{"name":"favors"},"transform":[{"filter":"datum.side === 'right'"}],"mark":{"type":"text","align":"left","baseline":"middle","fontSize":6.5,"dx":33},"encoding":{"x":{"datum":1,"type":"quantitative","scale":{"type":"log","domain":[0.0805,11.5],"nice":false,"clamp":true},"axis":{"values":[0.5,1,1.5],"labelExpr":"datum.value < 1 ? substring(format(datum.value, '~g'), 1) : format(datum.value, '~g')","tickSize":2,"labelPadding":3,"labelFontSize":6.5,"labelColor":"#1a1a1a","tickColor":"#555","domainColor":"#555","title":null,"grid":false,"labelFlush":false,"labelOverlap":false,"labelBound":false}},"y":{"datum":6.566,"type":"quantitative","scale":{"domain":[-3.13,6.356],"reverse":true,"nice":false,"zero":false},"axis":null},"text":{"field":"text"}}}
]},
{"width": 98, "height": 212, "layer": [
 {"data":{"name":"panels"},"transform":[{"filter":"datum.panel === 'C'"}],"mark":{"type":"rule","color":"#c8c8c8","strokeWidth":1},"encoding":{"y":{"datum":0.271,"type":"quantitative","scale":{"domain":[-3.13,6.356],"reverse":true,"nice":false,"zero":false},"axis":null}}},
 {"data":{"name":"panels"},"transform":[{"filter":"datum.panel === 'C'"}],"mark":{"type":"rule","color":"#555","strokeWidth":1},"encoding":{"y":{"datum":6.356,"type":"quantitative","scale":{"domain":[-3.13,6.356],"reverse":true,"nice":false,"zero":false},"axis":null}}},
 {"data":{"name":"headers"},"transform":[{"filter":"datum.panel === 'C' && datum.col !== 'study'"}],"mark":{"type":"text","align":"left","baseline":"middle","fontSize":5.8},"encoding":{"x":{"field":"col","type":"nominal","scale":{"type":"point","domain":["ci","weight"],"padding":0.181,"align":0},"axis":null},"y":{"field":"row","type":"quantitative","scale":{"domain":[-3.13,6.356],"reverse":true,"nice":false,"zero":false},"axis":null},"text":{"field":"text"}}},
 {"data":{"name":"studies"},"transform":[{"filter":"datum.panel === 'C'"}],"mark":{"type":"text","align":"left","baseline":"middle","fontSize":6.8},"encoding":{"x":{"datum":"ci","type":"nominal","scale":{"type":"point","domain":["ci","weight"],"padding":0.181,"align":0},"axis":null},"y":{"field":"row","type":"quantitative","scale":{"domain":[-3.13,6.356],"reverse":true,"nice":false,"zero":false},"axis":null},"text":{"field":"ci"}}},
 {"data":{"name":"studies"},"transform":[{"filter":"datum.panel === 'C'"}],"mark":{"type":"text","align":"left","baseline":"middle","fontSize":6},"encoding":{"x":{"datum":"weight","type":"nominal","scale":{"type":"point","domain":["ci","weight"],"padding":0.181,"align":0},"axis":null},"y":{"field":"row","type":"quantitative","scale":{"domain":[-3.13,6.356],"reverse":true,"nice":false,"zero":false},"axis":null},"text":{"field":"w","type":"quantitative","format":".2f"}}}
]},
{"width": 12, "height": 1, "data": {"values": []}, "mark": "point"},
{"width": 81, "height": 216, "layer": [
 {"data":{"name":"panels"},"transform":[{"filter":"datum.panel === 'D'"}],"mark":{"type":"rule","color":"#c8c8c8","strokeWidth":1},"encoding":{"y":{"datum":0.3,"type":"quantitative","scale":{"domain":[-3.148,5.966],"reverse":true,"nice":false,"zero":false},"axis":null}}},
 {"data":{"name":"panels"},"transform":[{"filter":"datum.panel === 'D'"}],"mark":{"type":"rule","color":"#555","strokeWidth":1},"encoding":{"y":{"datum":5.966,"type":"quantitative","scale":{"domain":[-3.148,5.966],"reverse":true,"nice":false,"zero":false},"axis":null}}},
 {"data":{"name":"panels"},"transform":[{"filter":"datum.panel === 'D'"}],"mark":{"type":"text","align":"left","baseline":"middle","fontSize":9.3},"encoding":{"x":{"datum":"study","type":"nominal","scale":{"type":"point","domain":["study"],"align":0.037,"padding":0},"axis":null},"y":{"datum":-2.684,"type":"quantitative","scale":{"domain":[-3.148,5.966],"reverse":true,"nice":false,"zero":false},"axis":null},"text":{"field":"title"}}},
 {"data":{"name":"panels"},"transform":[{"filter":"datum.panel === 'D'"}],"mark":{"type":"text","align":"center","baseline":"middle","fontSize":6.5,"fontWeight":"bold","dx":-12.3},"encoding":{"x":{"datum":"study","type":"nominal","scale":{"type":"point","domain":["study"],"align":0.037,"padding":0},"axis":null},"y":{"datum":-2.797,"type":"quantitative","scale":{"domain":[-3.148,5.966],"reverse":true,"nice":false,"zero":false},"axis":null},"text":{"field":"letter"}}},
 {"data":{"name":"headers"},"transform":[{"filter":"datum.panel === 'D' && datum.col === 'study'"}],"mark":{"type":"text","align":"left","baseline":"middle","fontSize":6.8},"encoding":{"x":{"field":"col","type":"nominal","scale":{"type":"point","domain":["study"],"align":0.037,"padding":0},"axis":null},"y":{"field":"row","type":"quantitative","scale":{"domain":[-3.148,5.966],"reverse":true,"nice":false,"zero":false},"axis":null},"text":{"field":"text"}}},
 {"data":{"name":"studies"},"transform":[{"filter":"datum.panel === 'D'"}],"mark":{"type":"text","align":"left","baseline":"middle","fontSize":7.4},"encoding":{"x":{"datum":"study","type":"nominal","scale":{"type":"point","domain":["study"],"align":0.037,"padding":0},"axis":null},"y":{"field":"row","type":"quantitative","scale":{"domain":[-3.148,5.966],"reverse":true,"nice":false,"zero":false},"axis":null},"text":{"field":"study"}}}
]},
{"width": 186, "height": 216, "layer": [
 {"data":{"name":"panels"},"transform":[{"filter":"datum.panel === 'D'"}],"mark":{"type":"rule","color":"#c8c8c8","strokeWidth":1},"encoding":{"y":{"datum":0.3,"type":"quantitative","scale":{"domain":[-3.148,5.966],"reverse":true,"nice":false,"zero":false},"axis":null}}},
 {"data":{"name":"panels"},"transform":[{"filter":"datum.panel === 'D'"}],"mark":{"type":"rule","color":"#000","strokeWidth":1},"encoding":{"x":{"datum":1,"type":"quantitative","scale":{"type":"log","domain":[0.0105,95.24],"nice":false,"clamp":true},"axis":{"values":[0.5,1,1.5],"labelExpr":"datum.value < 1 ? substring(format(datum.value, '~g'), 1) : format(datum.value, '~g')","tickSize":2.5,"labelPadding":3.3,"labelFontSize":6.8,"labelColor":"#1a1a1a","tickColor":"#555","domainColor":"#555","title":null,"grid":false,"labelFlush":false,"labelOverlap":false,"labelBound":false}},"y":{"datum":0.3,"type":"quantitative","scale":{"domain":[-3.148,5.966],"reverse":true,"nice":false,"zero":false},"axis":null},"y2":{"datum":5.966}}},
 {"data":{"name":"studies"},"transform":[{"filter":"datum.panel === 'D' && datum.overall"}],"mark":{"type":"rule","color":"#b04040","strokeWidth":1,"strokeDash":[2,2]},"encoding":{"x":{"field":"rr","type":"quantitative","scale":{"type":"log","domain":[0.0105,95.24],"nice":false,"clamp":true},"axis":{"values":[0.5,1,1.5],"labelExpr":"datum.value < 1 ? substring(format(datum.value, '~g'), 1) : format(datum.value, '~g')","tickSize":2.5,"labelPadding":3.3,"labelFontSize":6.8,"labelColor":"#1a1a1a","tickColor":"#555","domainColor":"#555","title":null,"grid":false,"labelFlush":false,"labelOverlap":false,"labelBound":false}},"y":{"datum":0.3,"type":"quantitative","scale":{"domain":[-3.148,5.966],"reverse":true,"nice":false,"zero":false},"axis":null},"y2":{"datum":5.966}}},
 {"data":{"name":"studies"},"transform":[{"filter":"datum.panel === 'D' && !datum.overall"}],"mark":{"type":"rule","color":"#111","strokeWidth":1},"encoding":{"x":{"field":"lo","type":"quantitative","scale":{"type":"log","domain":[0.0105,95.24],"nice":false,"clamp":true},"axis":{"values":[0.5,1,1.5],"labelExpr":"datum.value < 1 ? substring(format(datum.value, '~g'), 1) : format(datum.value, '~g')","tickSize":2.5,"labelPadding":3.3,"labelFontSize":6.8,"labelColor":"#1a1a1a","tickColor":"#555","domainColor":"#555","title":null,"grid":false,"labelFlush":false,"labelOverlap":false,"labelBound":false}},"x2":{"field":"hi"},"y":{"field":"row","type":"quantitative","scale":{"domain":[-3.148,5.966],"reverse":true,"nice":false,"zero":false},"axis":null}}},
 {"data":{"name":"studies"},"transform":[{"filter":"datum.panel === 'D' && !datum.overall"}],"mark":{"type":"point","shape":"square","filled":true,"color":"#000","size":7,"opacity":1},"encoding":{"x":{"field":"rr","type":"quantitative","scale":{"type":"log","domain":[0.0105,95.24],"nice":false,"clamp":true},"axis":{"values":[0.5,1,1.5],"labelExpr":"datum.value < 1 ? substring(format(datum.value, '~g'), 1) : format(datum.value, '~g')","tickSize":2.5,"labelPadding":3.3,"labelFontSize":6.8,"labelColor":"#1a1a1a","tickColor":"#555","domainColor":"#555","title":null,"grid":false,"labelFlush":false,"labelOverlap":false,"labelBound":false}},"y":{"field":"row","type":"quantitative","scale":{"domain":[-3.148,5.966],"reverse":true,"nice":false,"zero":false},"axis":null}}},
 {"data":{"name":"studies"},"transform":[{"filter":"datum.panel === 'D' && !datum.overall && datum.lo < 0.0105"}],"mark":{"type":"point","shape":"M 0.9 -1 L 0 0 L 0.9 1","filled":false,"color":"#111","strokeWidth":1,"size":137,"opacity":1},"encoding":{"x":{"field":"lo","type":"quantitative","scale":{"type":"log","domain":[0.0105,95.24],"nice":false,"clamp":true},"axis":{"values":[0.5,1,1.5],"labelExpr":"datum.value < 1 ? substring(format(datum.value, '~g'), 1) : format(datum.value, '~g')","tickSize":2.5,"labelPadding":3.3,"labelFontSize":6.8,"labelColor":"#1a1a1a","tickColor":"#555","domainColor":"#555","title":null,"grid":false,"labelFlush":false,"labelOverlap":false,"labelBound":false}},"y":{"field":"row","type":"quantitative","scale":{"domain":[-3.148,5.966],"reverse":true,"nice":false,"zero":false},"axis":null}}},
 {"data":{"name":"studies"},"transform":[{"filter":"datum.panel === 'D' && datum.overall"}],"mark":{"type":"rule","color":"#3f3f9f","strokeWidth":1,"y2Offset":-9.5},"encoding":{"x":{"field":"lo","type":"quantitative","scale":{"type":"log","domain":[0.0105,95.24],"nice":false,"clamp":true},"axis":{"values":[0.5,1,1.5],"labelExpr":"datum.value < 1 ? substring(format(datum.value, '~g'), 1) : format(datum.value, '~g')","tickSize":2.5,"labelPadding":3.3,"labelFontSize":6.8,"labelColor":"#1a1a1a","tickColor":"#555","domainColor":"#555","title":null,"grid":false,"labelFlush":false,"labelOverlap":false,"labelBound":false}},"x2":{"field":"rr"},"y":{"field":"row","type":"quantitative","scale":{"domain":[-3.148,5.966],"reverse":true,"nice":false,"zero":false},"axis":null},"y2":{"field":"row"}}},
 {"data":{"name":"studies"},"transform":[{"filter":"datum.panel === 'D' && datum.overall"}],"mark":{"type":"rule","color":"#3f3f9f","strokeWidth":1,"yOffset":-9.5},"encoding":{"x":{"field":"rr","type":"quantitative","scale":{"type":"log","domain":[0.0105,95.24],"nice":false,"clamp":true},"axis":{"values":[0.5,1,1.5],"labelExpr":"datum.value < 1 ? substring(format(datum.value, '~g'), 1) : format(datum.value, '~g')","tickSize":2.5,"labelPadding":3.3,"labelFontSize":6.8,"labelColor":"#1a1a1a","tickColor":"#555","domainColor":"#555","title":null,"grid":false,"labelFlush":false,"labelOverlap":false,"labelBound":false}},"x2":{"field":"hi"},"y":{"field":"row","type":"quantitative","scale":{"domain":[-3.148,5.966],"reverse":true,"nice":false,"zero":false},"axis":null},"y2":{"field":"row"}}},
 {"data":{"name":"studies"},"transform":[{"filter":"datum.panel === 'D' && datum.overall"}],"mark":{"type":"rule","color":"#3f3f9f","strokeWidth":1,"y2Offset":9.5},"encoding":{"x":{"field":"lo","type":"quantitative","scale":{"type":"log","domain":[0.0105,95.24],"nice":false,"clamp":true},"axis":{"values":[0.5,1,1.5],"labelExpr":"datum.value < 1 ? substring(format(datum.value, '~g'), 1) : format(datum.value, '~g')","tickSize":2.5,"labelPadding":3.3,"labelFontSize":6.8,"labelColor":"#1a1a1a","tickColor":"#555","domainColor":"#555","title":null,"grid":false,"labelFlush":false,"labelOverlap":false,"labelBound":false}},"x2":{"field":"rr"},"y":{"field":"row","type":"quantitative","scale":{"domain":[-3.148,5.966],"reverse":true,"nice":false,"zero":false},"axis":null},"y2":{"field":"row"}}},
 {"data":{"name":"studies"},"transform":[{"filter":"datum.panel === 'D' && datum.overall"}],"mark":{"type":"rule","color":"#3f3f9f","strokeWidth":1,"yOffset":9.5},"encoding":{"x":{"field":"rr","type":"quantitative","scale":{"type":"log","domain":[0.0105,95.24],"nice":false,"clamp":true},"axis":{"values":[0.5,1,1.5],"labelExpr":"datum.value < 1 ? substring(format(datum.value, '~g'), 1) : format(datum.value, '~g')","tickSize":2.5,"labelPadding":3.3,"labelFontSize":6.8,"labelColor":"#1a1a1a","tickColor":"#555","domainColor":"#555","title":null,"grid":false,"labelFlush":false,"labelOverlap":false,"labelBound":false}},"x2":{"field":"hi"},"y":{"field":"row","type":"quantitative","scale":{"domain":[-3.148,5.966],"reverse":true,"nice":false,"zero":false},"axis":null},"y2":{"field":"row"}}},
 {"data":{"name":"favors"},"transform":[{"filter":"datum.side === 'left'"}],"mark":{"type":"text","align":"right","baseline":"middle","fontSize":6.8,"dx":-32},"encoding":{"x":{"datum":1,"type":"quantitative","scale":{"type":"log","domain":[0.0105,95.24],"nice":false,"clamp":true},"axis":{"values":[0.5,1,1.5],"labelExpr":"datum.value < 1 ? substring(format(datum.value, '~g'), 1) : format(datum.value, '~g')","tickSize":2.5,"labelPadding":3.3,"labelFontSize":6.8,"labelColor":"#1a1a1a","tickColor":"#555","domainColor":"#555","title":null,"grid":false,"labelFlush":false,"labelOverlap":false,"labelBound":false}},"y":{"datum":6.274,"type":"quantitative","scale":{"domain":[-3.148,5.966],"reverse":true,"nice":false,"zero":false},"axis":null},"text":{"field":"text"}}},
 {"data":{"name":"favors"},"transform":[{"filter":"datum.side === 'right'"}],"mark":{"type":"text","align":"left","baseline":"middle","fontSize":6.8,"dx":25},"encoding":{"x":{"datum":1,"type":"quantitative","scale":{"type":"log","domain":[0.0105,95.24],"nice":false,"clamp":true},"axis":{"values":[0.5,1,1.5],"labelExpr":"datum.value < 1 ? substring(format(datum.value, '~g'), 1) : format(datum.value, '~g')","tickSize":2.5,"labelPadding":3.3,"labelFontSize":6.8,"labelColor":"#1a1a1a","tickColor":"#555","domainColor":"#555","title":null,"grid":false,"labelFlush":false,"labelOverlap":false,"labelBound":false}},"y":{"datum":6.274,"type":"quantitative","scale":{"domain":[-3.148,5.966],"reverse":true,"nice":false,"zero":false},"axis":null},"text":{"field":"text"}}}
]},
{"width": 90, "height": 216, "layer": [
 {"data":{"name":"panels"},"transform":[{"filter":"datum.panel === 'D'"}],"mark":{"type":"rule","color":"#c8c8c8","strokeWidth":1},"encoding":{"y":{"datum":0.3,"type":"quantitative","scale":{"domain":[-3.148,5.966],"reverse":true,"nice":false,"zero":false},"axis":null}}},
 {"data":{"name":"panels"},"transform":[{"filter":"datum.panel === 'D'"}],"mark":{"type":"rule","color":"#555","strokeWidth":1},"encoding":{"y":{"datum":5.966,"type":"quantitative","scale":{"domain":[-3.148,5.966],"reverse":true,"nice":false,"zero":false},"axis":null}}},
 {"data":{"name":"headers"},"transform":[{"filter":"datum.panel === 'D' && datum.col !== 'study'"}],"mark":{"type":"text","align":"left","baseline":"middle","fontSize":5.8},"encoding":{"x":{"field":"col","type":"nominal","scale":{"type":"point","domain":["ci","weight"],"padding":0.134,"align":0},"axis":null},"y":{"field":"row","type":"quantitative","scale":{"domain":[-3.148,5.966],"reverse":true,"nice":false,"zero":false},"axis":null},"text":{"field":"text"}}},
 {"data":{"name":"studies"},"transform":[{"filter":"datum.panel === 'D'"}],"mark":{"type":"text","align":"left","baseline":"middle","fontSize":5.8},"encoding":{"x":{"datum":"ci","type":"nominal","scale":{"type":"point","domain":["ci","weight"],"padding":0.134,"align":0},"axis":null},"y":{"field":"row","type":"quantitative","scale":{"domain":[-3.148,5.966],"reverse":true,"nice":false,"zero":false},"axis":null},"text":{"field":"ci"}}},
 {"data":{"name":"studies"},"transform":[{"filter":"datum.panel === 'D'"}],"mark":{"type":"text","align":"left","baseline":"middle","fontSize":5.2},"encoding":{"x":{"datum":"weight","type":"nominal","scale":{"type":"point","domain":["ci","weight"],"padding":0.134,"align":0},"axis":null},"y":{"field":"row","type":"quantitative","scale":{"domain":[-3.148,5.966],"reverse":true,"nice":false,"zero":false},"axis":null},"text":{"field":"w","type":"quantitative","format":".2f"}}}
]}
], "spacing": 0, "bounds": "flush", "resolve": {"scale": {"size": "independent"}}}
]
}
